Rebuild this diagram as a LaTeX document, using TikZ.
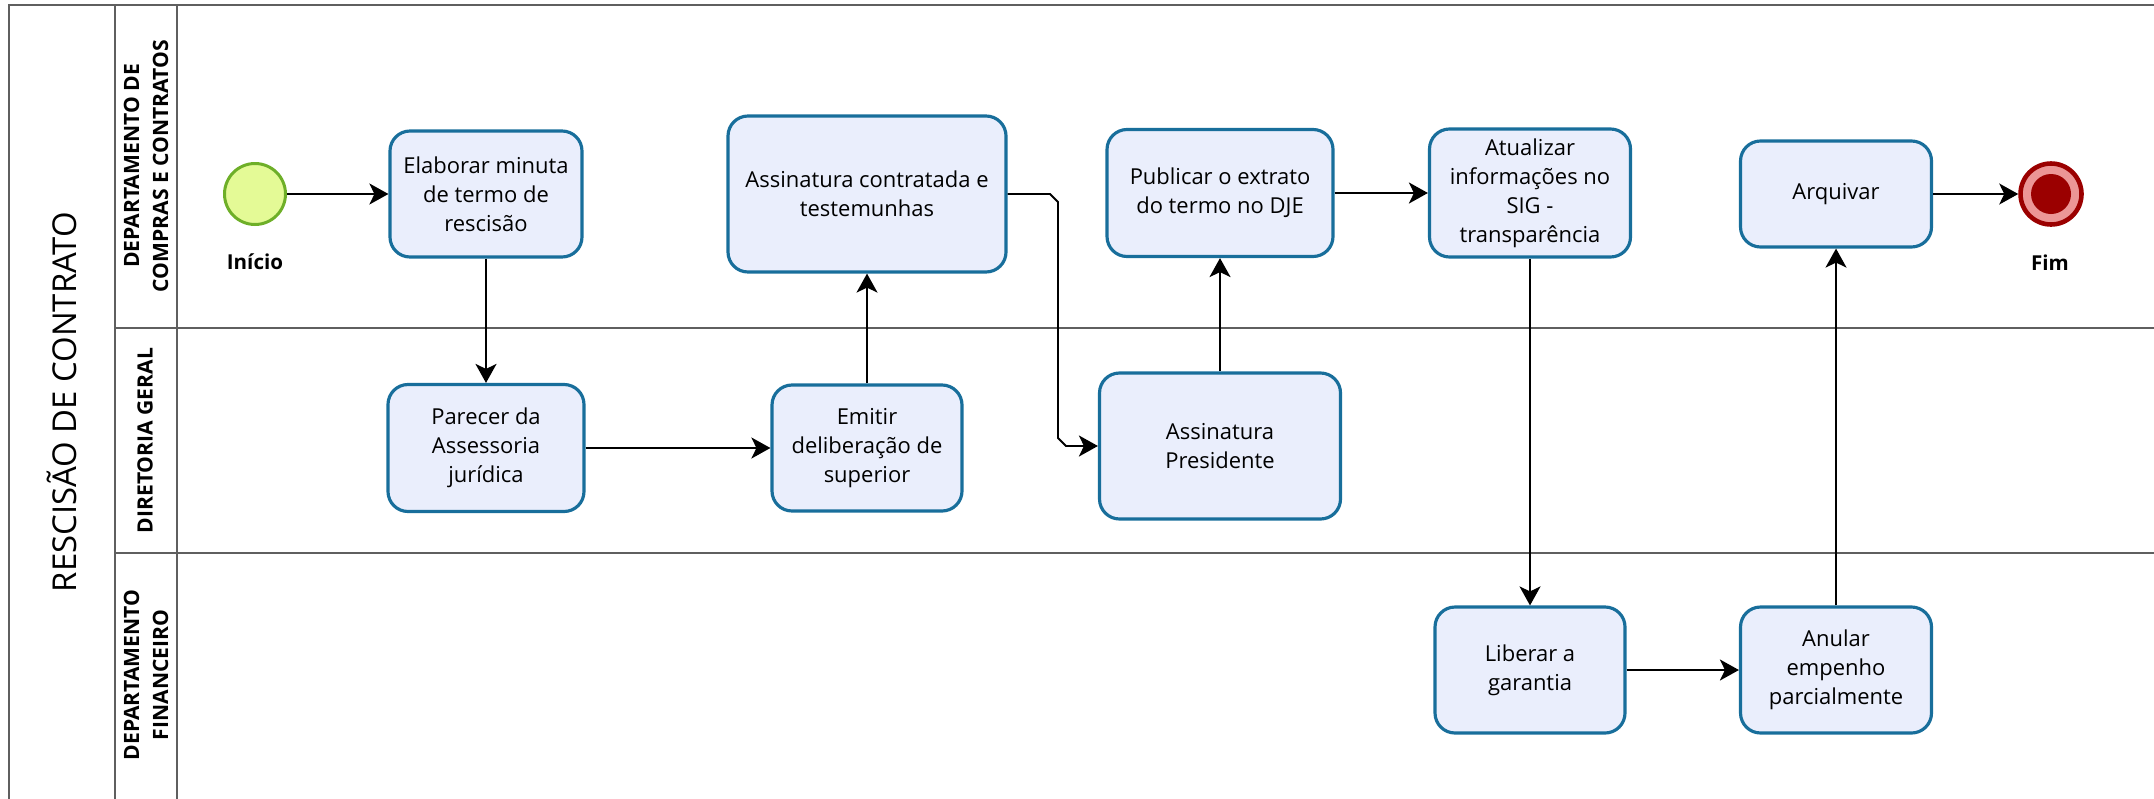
\documentclass[tikz,border=0pt]{standalone}
\usepackage{fontspec}
\setmainfont{Open Sans}
\usetikzlibrary{arrows.meta,calc}
\definecolor{taskfill}{RGB}{234,238,252}
\definecolor{taskline}{RGB}{24,110,155}
\definecolor{startfill}{RGB}{228,250,150}
\definecolor{startline}{RGB}{110,175,40}
\definecolor{endred}{RGB}{155,0,0}
\definecolor{endpink}{RGB}{236,150,150}
\definecolor{laneline}{RGB}{95,95,95}

\begin{document}
\begin{tikzpicture}[>={Stealth[length=0.38cm,width=0.42cm,inset=0.1cm]},
  task/.style={draw=taskline,fill=taskfill,line width=1.8pt,rounded corners=0.4cm,align=center,font=\fontsize{12.5}{16.5}\selectfont},
  lanehead/.style={rotate=90,align=center,font=\bfseries\fontsize{12}{16.5}\selectfont},
  evlabel/.style={font=\bfseries\fontsize{11.7}{14}\selectfont},
  lane/.style={draw=laneline,line width=1.1pt},
  flow/.style={->,line width=1.1pt}]
\useasboundingbox (0,0) rectangle (43.08,-15.96);
\clip (0,0) rectangle (43.08,-15.96);
\draw[lane] (0.18,-16.2) |- (43.3,-0.10); \draw[lane] (2.30,-16.2) -- (2.30,-0.10); \draw[lane] (3.54,-16.2) -- (3.54,-0.10);
\draw[lane] (2.30,-6.56) -- (43.3,-6.56); \draw[lane] (2.30,-11.06) -- (43.3,-11.06);
\node[rotate=90,font=\fontsize{18.7}{22}\selectfont] (pooltitle) at (1.24,-8.04) {RESCISÃO DE CONTRATO};
\node[lanehead] (lanecc) at (2.92,-3.32) {DEPARTAMENTO DE\\COMPRAS E CONTRATOS};
\node[lanehead] (lanedg) at (2.90,-8.81) {DIRETORIA GERAL};
\node[lanehead] (lanedf) at (2.92,-13.50) {DEPARTAMENTO\\FINANCEIRO};
\node[circle,draw=startline,fill=startfill,line width=1.7pt,minimum size=1.22cm,inner sep=0pt] (start) at (5.10,-3.88) {};
\node[evlabel] (startlbl) at (5.10,-5.24) {Início};
\node[task,minimum width=3.84cm,minimum height=2.52cm] (elab) at (9.72,-3.88) {Elaborar minuta\\de termo de\\rescisão};
\node[task,minimum width=5.56cm,minimum height=3.12cm] (assc) at (17.34,-3.88) {Assinatura contratada e\\testemunhas};
\node[task,minimum width=4.52cm,minimum height=2.54cm] (publ) at (24.40,-3.86) {Publicar o extrato\\do termo no DJE};
\node[task,minimum width=4.02cm,minimum height=2.56cm] (atual) at (30.60,-3.86) {Atualizar\\informações no\\SIG -\\transparência};
\node[task,minimum width=3.82cm,minimum height=2.12cm] (arq) at (36.72,-3.88) {Arquivar};
\node[circle,draw=endred,fill=endpink,line width=2.6pt,minimum size=1.22cm,inner sep=0pt] (fim) at (41.02,-3.88) {};
\node[circle,fill=endred,minimum size=0.80cm,inner sep=0pt] (fimdot) at (fim.center) {};
\node[evlabel] (fimlbl) at (41.00,-5.26) {Fim};
\node[task,minimum width=3.92cm,minimum height=2.54cm] (parec) at (9.72,-8.96) {Parecer da\\Assessoria\\jurídica};
\node[task,minimum width=3.80cm,minimum height=2.52cm] (emit) at (17.34,-8.96) {Emitir\\deliberação de\\superior};
\node[task,minimum width=4.82cm,minimum height=2.92cm] (pres) at (24.40,-8.92) {Assinatura\\Presidente};
\node[task,minimum width=3.80cm,minimum height=2.52cm] (liber) at (30.60,-13.40) {Liberar a\\garantia};
\node[task,minimum width=3.82cm,minimum height=2.52cm] (anul) at (36.72,-13.40) {Anular\\empenho\\parcialmente};
\coordinate (jog) at (21.16,0);
\draw[flow] (start) -- (elab); \draw[flow] (elab) -- (parec); \draw[flow] (parec) -- (emit); \draw[flow] (emit) -- (assc);
\draw[flow] (assc.east) -- ($(assc.east -| jog)+(-0.16,0)$) -- ($(assc.east -| jog)+(0,-0.16)$) -- ($(pres.west -| jog)+(0,0.16)$) -- ($(pres.west -| jog)+(0.16,0)$) -- (pres.west);
\draw[flow] (pres) -- (publ); \draw[flow] (publ) -- (atual); \draw[flow] (atual) -- (liber); \draw[flow] (liber) -- (anul);
\draw[flow] (anul) -- (arq); \draw[flow] (arq) -- (fim);
\end{tikzpicture}
\end{document}
